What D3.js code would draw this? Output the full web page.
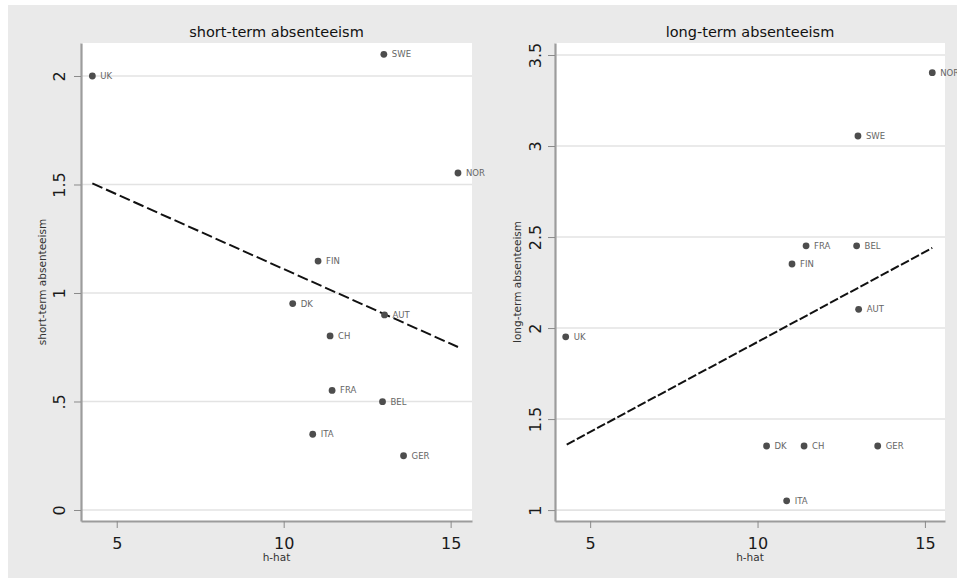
<!DOCTYPE html>
<html>
<head>
<meta charset="utf-8">
<script src="https://cdn.jsdelivr.net/npm/d3@7"></script>
<style>
  html, body { margin: 0; padding: 0; background: #ffffff; }
  svg { display: block; }
  text { font-family: "DejaVu Sans", sans-serif; }
</style>
</head>
<body>
<svg id="chart" width="957" height="579"></svg>
<script>
// ---- data ----
const countries = ["UK", "SWE", "NOR", "FIN", "DK", "AUT", "CH", "FRA", "BEL", "ITA", "GER"];
const hHat      = [4.27, 13.00, 15.22, 11.03, 10.27, 13.02, 11.39, 11.45, 12.96, 10.87, 13.59];
const shortTerm = [2.00, 2.10, 1.553, 1.147, 0.951, 0.899, 0.802, 0.551, 0.499, 0.349, 0.250];
const longTerm  = [1.952, 3.055, 3.403, 2.352, 1.352, 2.103, 1.352, 2.452, 2.452, 1.051, 1.352];

// fitted lines (end points)
const shortFitX = [4.27, 15.22];
const shortFitY = [1.505, 0.751];
const longFitX  = [4.30, 15.22];
const longFitY  = [1.360, 2.440];

const xTicks = [5, 10, 15];
const shortTicks = [0, 0.5, 1, 1.5, 2];
const shortTickLabels = ["0", ".5", "1", "1.5", "2"];
const longTicks = [1, 1.5, 2, 2.5, 3, 3.5];
const longTickLabels = ["1", "1.5", "2", "2.5", "3", "3.5"];

const titles = ["short-term absenteeism", "long-term absenteeism"];
const xTitle = "h-hat";

// ---- layout ----
const svg = d3.select("#chart");
svg.append("rect").attr("x", 8).attr("y", 5).attr("width", 949).attr("height", 573).attr("fill", "#eaeaea");

const panels = [
  {
    title: titles[0], yTitle: titles[0], ys: shortTerm, fitX: shortFitX, fitY: shortFitY,
    ticks: shortTicks, tickLabels: shortTickLabels,
    x0: 81, x1: 472, xDom: [3.93, 15.64], yDom: [-0.0507, 2.152],
    yLabOff: 16, yTitleX: 46, dash: "11,4"
  },
  {
    title: titles[1], yTitle: titles[1], ys: longTerm, fitX: longFitX, fitY: longFitY,
    ticks: longTicks, tickLabels: longTickLabels,
    x0: 555, x1: 945, xDom: [3.95, 15.6], yDom: [0.94, 3.566],
    yLabOff: 14, yTitleX: 521, dash: "9,2.5"
  }
];
const plotTop = 43, plotBottom = 521;

panels.forEach(p => {
  const g = svg.append("g");
  const x = d3.scaleLinear().domain(p.xDom).range([p.x0, p.x1]);
  const y = d3.scaleLinear().domain(p.yDom).range([plotBottom, plotTop]);

  // plot region
  g.append("rect").attr("x", p.x0).attr("y", plotTop)
    .attr("width", p.x1 - p.x0).attr("height", plotBottom - plotTop).attr("fill", "#ffffff");

  // gridlines
  g.selectAll("line.grid").data(p.ticks).join("line")
    .attr("class", "grid")
    .attr("x1", p.x0).attr("x2", p.x1)
    .attr("y1", d => y(d)).attr("y2", d => y(d))
    .attr("stroke", "#e3e3e3").attr("stroke-width", 1.6);

  // y axis
  const yAxis = d3.axisLeft(y).tickValues(p.ticks)
    .tickFormat((d, i) => p.tickLabels[i]).tickSize(7).tickSizeOuter(0);
  const ya = g.append("g").attr("transform", `translate(${p.x0},0)`).call(yAxis);
  ya.select(".domain").attr("stroke", "#9c9c9c").attr("stroke-width", 2.2);
  ya.selectAll(".tick line").attr("stroke", "#8a8a8a").attr("stroke-width", 1);
  ya.selectAll(".tick text")
    .attr("x", null).attr("dy", null)
    .attr("text-anchor", "middle")
    .attr("transform", `translate(${-p.yLabOff},0) rotate(-90)`)
    .attr("font-size", 16).attr("fill", "#1a1a1a")
    .style("font-family", "DejaVu Sans, sans-serif");

  // x axis
  const xAxis = d3.axisBottom(x).tickValues(xTicks).tickSize(7).tickSizeOuter(0);
  const xa = g.append("g").attr("transform", `translate(0,${plotBottom})`).call(xAxis);
  xa.select(".domain").attr("stroke", "#9c9c9c").attr("stroke-width", 2.2);
  xa.selectAll(".tick line").attr("stroke", "#8a8a8a").attr("stroke-width", 1);
  xa.selectAll(".tick text")
    .attr("y", 28).attr("dy", null)
    .attr("font-size", 16).attr("fill", "#1a1a1a")
    .style("font-family", "DejaVu Sans, sans-serif");

  // titles
  const cx = (p.x0 + p.x1) / 2;
  g.append("text").attr("x", cx).attr("y", 37).attr("text-anchor", "middle")
    .attr("font-size", 14.5).attr("fill", "#111").text(p.title);
  g.append("text").attr("x", cx).attr("y", 561).attr("text-anchor", "middle")
    .attr("font-size", 10.5).attr("fill", "#333").text(xTitle);
  g.append("text")
    .attr("transform", `translate(${p.yTitleX},${(plotTop + plotBottom) / 2}) rotate(-90)`)
    .attr("text-anchor", "middle").attr("font-size", 10.5).attr("fill", "#333")
    .text(p.yTitle);

  // fitted line
  const fit = p.fitX.map((v, i) => [v, p.fitY[i]]);
  g.append("path").datum(fit)
    .attr("d", d3.line().x(d => x(d[0])).y(d => y(d[1])))
    .attr("fill", "none").attr("stroke", "#111").attr("stroke-width", 2)
    .attr("stroke-dasharray", p.dash);

  // points
  const pts = countries.map((c, i) => ({ c, x: hHat[i], y: p.ys[i] }));
  g.selectAll("circle.pt").data(pts).join("circle")
    .attr("class", "pt")
    .attr("cx", d => x(d.x)).attr("cy", d => y(d.y)).attr("r", 3.4)
    .attr("fill", "#4d4d4d");
  g.selectAll("text.lab").data(pts).join("text")
    .attr("class", "lab")
    .attr("x", d => x(d.x) + 8).attr("y", d => y(d.y)).attr("dy", "0.35em")
    .attr("font-size", 8.5).attr("fill", "#666").text(d => d.c);
});
</script>
</body>
</html>
